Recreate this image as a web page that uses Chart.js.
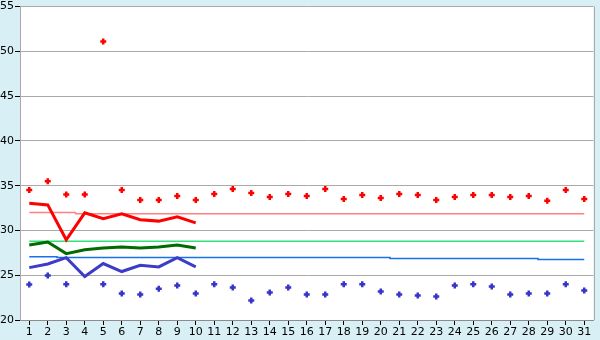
<!DOCTYPE html>
<html>
<head>
<meta charset="utf-8">
<script src="https://cdn.jsdelivr.net/npm/chart.js@4/dist/chart.umd.min.js"></script>
<style>
  html, body { margin: 0; padding: 0; background: #d9eff6; }
  #wrap { width: 600px; height: 340px; }
</style>
</head>
<body>
<div id="wrap"><canvas id="lineChart" width="600" height="340"></canvas></div>
<script>
const days = ['1','2','3','4','5','6','7','8','9','10','11','12','13','14','15','16','17','18','19','20','21','22','23','24','25','26','27','28','29','30','31'];
const yTicks = [20, 25, 30, 35, 40, 45, 50, 55];

// daily high / low markers
const highPts = [34.5, 35.5, 34.0, 34.0, 51.1, 34.5, 33.4, 33.4, 33.85, 33.4, 34.07, 34.63, 34.19, 33.74, 34.07, 33.85, 34.63, 33.52, 33.96, 33.63, 34.07, 33.96, 33.4, 33.74, 33.96, 33.96, 33.74, 33.85, 33.3, 34.52, 33.52];
const lowPts = [23.96, 24.96, 24.0, null, 24.0, 22.96, 22.85, 23.5, 23.85, 22.96, 24.0, 23.63, 22.19, 23.07, 23.63, 22.85, 22.85, 24.0, 24.0, 23.19, 22.85, 22.74, 22.63, 23.85, 24.0, 23.74, 22.85, 22.96, 22.96, 24.0, 23.3];

// measured lines (first 10 days)
const highLine = [33.04, 32.85, 28.96, 31.96, 31.3, 31.85, 31.19, 31.04, 31.52, 30.85];
const meanLine = [28.37, 28.7, 27.41, 27.85, 28.04, 28.15, 28.04, 28.15, 28.37, 28.04];
const lowLine = [25.85, 26.26, 26.96, 24.85, 26.3, 25.41, 26.1, 25.93, 26.96, 25.93];

// reference levels
const highRef = [32.0, 32.0, 32.0, 31.87, 31.87, 31.87, 31.87, 31.87, 31.87, 31.87, 31.87, 31.87, 31.87, 31.87, 31.87, 31.87, 31.87, 31.87, 31.87, 31.87, 31.87, 31.87, 31.87, 31.87, 31.87, 31.87, 31.87, 31.87, 31.87, 31.87, 31.87];
const meanRef = [28.78, 28.78, 28.78, 28.78, 28.78, 28.78, 28.78, 28.78, 28.78, 28.78, 28.78, 28.78, 28.78, 28.78, 28.78, 28.78, 28.78, 28.78, 28.78, 28.78, 28.78, 28.78, 28.78, 28.78, 28.78, 28.78, 28.78, 28.78, 28.78, 28.78, 28.78];
const lowRef = [27.07, 27.07, 26.97, 26.97, 26.97, 26.97, 26.97, 26.97, 26.97, 26.97, 26.97, 26.97, 26.97, 26.97, 26.97, 26.97, 26.97, 26.97, 26.97, 26.97, 26.86, 26.86, 26.86, 26.86, 26.86, 26.86, 26.86, 26.86, 26.75, 26.75, 26.75];

const plotBg = {
    id: 'plotBg',
    beforeDraw(chart) {
        const { ctx, chartArea: a } = chart;
        ctx.save();
        ctx.fillStyle = '#d9eff6';
        ctx.fillRect(0, 0, chart.width, chart.height);
        ctx.fillStyle = '#ffffff';
        ctx.fillRect(a.left, a.top, a.right - a.left, a.bottom - a.top);
        ctx.restore();
    },
    afterDatasetsDraw(chart) {
        const { ctx, chartArea: a } = chart;
        ctx.save();
        ctx.strokeStyle = '#a8a8a8';
        ctx.lineWidth = 1;
        ctx.beginPath();
        ctx.moveTo(Math.round(a.right) + 0.5, a.top);
        ctx.lineTo(Math.round(a.right) + 0.5, a.bottom);
        ctx.stroke();
        ctx.restore();
    }
};

const thin = (data, color) => ({
    data: data, borderColor: color, borderWidth: 1.5, pointRadius: 0,
    stepped: 'middle', fill: false, order: 5
});
const thick = (data, color) => ({
    data: data, borderColor: color, borderWidth: 3, pointRadius: 0,
    tension: 0, fill: false, order: 2
});
const marks = (data, color) => ({
    data: data, showLine: false, pointStyle: 'cross', pointRadius: 3,
    pointBorderWidth: 2.5, borderColor: color, backgroundColor: color, order: 1
});

const CHART = document.getElementById('lineChart');
let lineChart = new Chart(CHART, {
    type: 'line',
    data: {
        labels: days,
        datasets: [
            thin(highRef, '#ff8080'),
            thin(meanRef, '#33e07a'),
            thin(lowRef, '#1673e6'),
            thick(highLine, '#ff0000'),
            thick(meanLine, '#006b00'),
            thick(lowLine, '#3c3cc8'),
            marks(highPts, '#ff0000'),
            marks(lowPts, '#3535c8')
        ]
    },
    options: {
        responsive: false,
        animation: false,
        layout: { padding: { top: 5, right: 5, left: 0, bottom: 0 } },
        plugins: { legend: { display: false }, tooltip: { enabled: false } },
        scales: {
            x: {
                type: 'category',
                offset: true,
                grid: { offset: false, drawOnChartArea: false, drawTicks: true, tickLength: 5, tickColor: '#000' },
                border: { color: '#8c8c8c' },
                ticks: { color: '#000', font: { family: 'DejaVu Sans', size: 11 }, padding: 1, maxRotation: 0, autoSkip: false },
                afterFit(s) { s.height = 20; s.paddingLeft = 0; s.paddingRight = 0; }
            },
            y: {
                min: 20, max: 55,
                afterBuildTicks(s) { s.ticks = yTicks.map(v => ({ value: v })); },
                grid: { color: '#aaaaaa', tickColor: '#000', tickLength: 5 },
                border: { color: '#a8a8a8' },
                ticks: { color: '#000', font: { family: 'DejaVu Sans', size: 11 }, padding: 1 },
                afterFit(s) { s.width = 20; s.paddingTop = 0; s.paddingBottom = 0; }
            }
        }
    },
    plugins: [plotBg]
});
</script>
</body>
</html>
